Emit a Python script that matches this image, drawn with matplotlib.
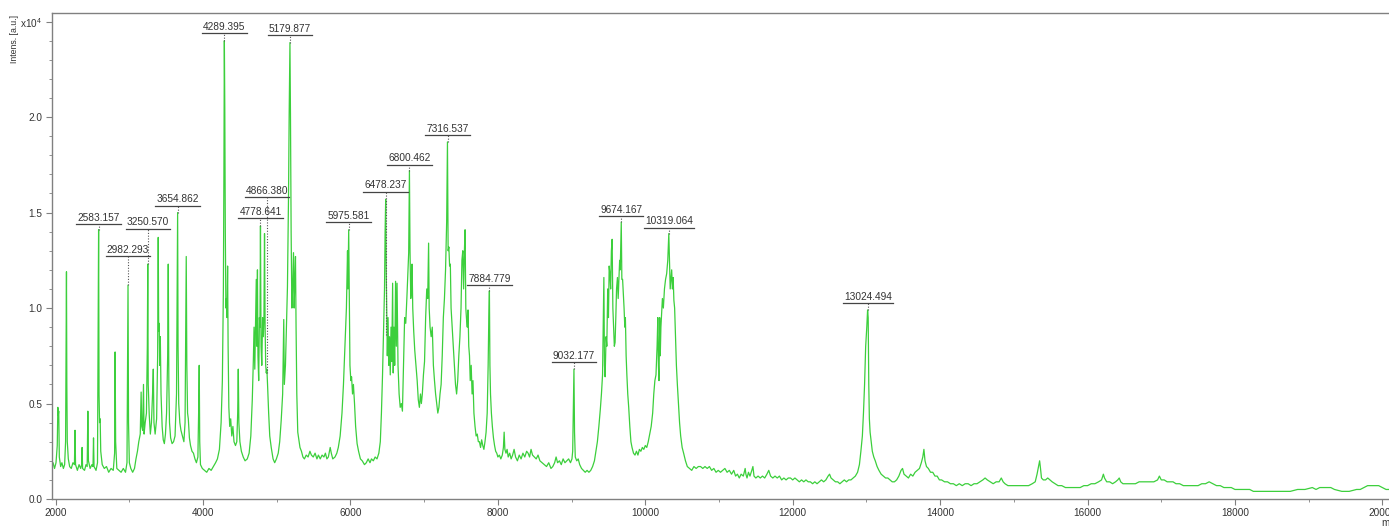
import matplotlib.pyplot as plt
from matplotlib.ticker import MultipleLocator

plt.rcParams['font.family'] = ['Liberation Sans', 'DejaVu Sans']
plt.rcParams['mathtext.default'] = 'regular'

# spectrum trace: (m/z, intensity in 1e4 a.u.)
trace_low = [
    (1950, 0.17), (1965, 0.19), (1985, 0.16), (2005, 0.19), (2022, 0.28), (2030, 0.48),
    (2036, 0.44), (2042, 0.46), (2050, 0.22), (2068, 0.17), (2085, 0.19), (2105, 0.16),
    (2122, 0.18), (2135, 0.30), (2141, 0.76), (2147, 1.19), (2152, 0.60), (2158, 0.30),
    (2172, 0.21), (2190, 0.17), (2212, 0.16), (2235, 0.19), (2255, 0.18), (2263, 0.36),
    (2270, 0.18), (2295, 0.15), (2318, 0.18), (2340, 0.16), (2353, 0.18), (2359, 0.27),
    (2366, 0.16), (2392, 0.15), (2412, 0.18), (2428, 0.17), (2437, 0.46), (2445, 0.20),
    (2468, 0.16), (2492, 0.18), (2507, 0.17), (2514, 0.32), (2521, 0.17), (2548, 0.15),
    (2568, 0.19), (2577, 0.90), (2583, 1.41), (2589, 0.55), (2596, 0.40), (2604, 0.42),
    (2612, 0.25), (2632, 0.18), (2660, 0.16), (2690, 0.17), (2720, 0.14), (2752, 0.16),
    (2782, 0.15), (2800, 0.24), (2807, 0.77), (2814, 0.30), (2830, 0.16), (2858, 0.15),
    (2888, 0.14), (2918, 0.16), (2948, 0.14), (2968, 0.19), (2976, 0.74), (2982, 1.12),
    (2989, 0.40), (3000, 0.19), (3020, 0.16), (3045, 0.14), (3070, 0.16), (3090, 0.21),
    (3110, 0.25), (3128, 0.30), (3148, 0.34), (3160, 0.56), (3168, 0.38), (3180, 0.36),
    (3192, 0.60), (3200, 0.34), (3215, 0.40), (3232, 0.45), (3244, 0.80), (3250, 1.23),
    (3256, 0.60), (3270, 0.44), (3285, 0.34), (3300, 0.40), (3315, 0.55), (3325, 0.68),
    (3334, 0.40), (3350, 0.34), (3370, 0.42), (3384, 0.75), (3392, 1.37), (3398, 0.88),
    (3405, 0.92), (3412, 0.70), (3420, 0.85), (3430, 0.55), (3445, 0.38), (3460, 0.31),
    (3475, 0.29), (3490, 0.34), (3505, 0.45), (3520, 0.75), (3528, 1.23), (3536, 0.60),
    (3545, 0.40), (3560, 0.32), (3580, 0.29), (3600, 0.30), (3620, 0.33), (3640, 0.55),
    (3649, 1.15), (3655, 1.50), (3661, 0.80), (3670, 0.50), (3685, 0.40), (3700, 0.36),
    (3720, 0.33), (3740, 0.30), (3756, 0.40), (3765, 0.90), (3772, 1.27), (3780, 0.70),
    (3790, 0.45), (3800, 0.42), (3815, 0.32), (3830, 0.28), (3850, 0.25), (3870, 0.24),
    (3890, 0.21), (3910, 0.19), (3930, 0.22), (3940, 0.45), (3948, 0.70), (3955, 0.30),
    (3965, 0.18), (3990, 0.16), (4020, 0.15), (4050, 0.14), (4080, 0.16), (4110, 0.15),
    (4140, 0.17), (4170, 0.19), (4195, 0.21), (4222, 0.26), (4245, 0.40), (4262, 0.62),
    (4276, 1.10), (4283, 1.70), (4289, 2.40), (4295, 2.05), (4302, 1.40), (4310, 1.00),
    (4318, 1.05), (4325, 0.95), (4333, 1.22), (4340, 0.80), (4350, 0.48), (4362, 0.38),
    (4375, 0.42), (4390, 0.33), (4405, 0.38), (4420, 0.30), (4440, 0.28), (4458, 0.30),
    (4470, 0.45), (4478, 0.68), (4486, 0.40), (4500, 0.30), (4520, 0.25), (4545, 0.22),
    (4570, 0.20), (4600, 0.21), (4625, 0.24), (4648, 0.33), (4668, 0.52), (4682, 0.72),
    (4692, 0.90), (4702, 0.68), (4712, 0.92), (4722, 1.15), (4730, 0.80), (4738, 1.20),
    (4745, 0.75), (4755, 0.62), (4765, 0.95), (4772, 0.90), (4779, 1.43), (4787, 0.80),
    (4797, 0.70), (4808, 0.95), (4818, 0.85), (4826, 0.94), (4834, 1.39), (4842, 0.90),
    (4850, 0.70), (4858, 0.66), (4866, 0.68), (4875, 0.60), (4890, 0.45), (4905, 0.33),
    (4925, 0.27), (4950, 0.21), (4972, 0.19), (4995, 0.21), (5020, 0.24), (5040, 0.30),
    (5060, 0.41), (5080, 0.55), (5095, 0.94), (5103, 0.60), (5118, 0.70), (5135, 0.95),
    (5145, 1.11), (5160, 1.60), (5168, 2.00), (5179, 2.39), (5186, 2.02), (5195, 1.40),
    (5205, 1.00), (5215, 1.10), (5227, 1.29), (5236, 1.00), (5245, 1.15), (5254, 1.27),
    (5262, 0.90), (5272, 0.55), (5285, 0.35), (5300, 0.31), (5315, 0.27), (5335, 0.25),
    (5355, 0.22), (5375, 0.21), (5400, 0.23), (5425, 0.22), (5450, 0.25), (5470, 0.23),
    (5495, 0.22), (5520, 0.24), (5545, 0.21), (5565, 0.23), (5590, 0.21), (5615, 0.23),
    (5640, 0.22), (5660, 0.24), (5680, 0.21), (5700, 0.22), (5725, 0.27), (5740, 0.24),
    (5760, 0.21), (5790, 0.22), (5815, 0.24), (5835, 0.27), (5860, 0.33), (5885, 0.45),
    (5905, 0.60), (5925, 0.80), (5945, 1.00), (5960, 1.30), (5966, 1.10), (5976, 1.41),
    (5985, 1.00), (5993, 0.70),
]

trace_mid = [
    (6005, 0.62), (6015, 0.64), (6028, 0.55), (6040, 0.60), (6055, 0.50), (6070, 0.38),
    (6090, 0.29), (6110, 0.25), (6135, 0.21), (6160, 0.20), (6190, 0.18), (6215, 0.19),
    (6240, 0.21), (6265, 0.19), (6285, 0.21), (6310, 0.20), (6335, 0.22), (6360, 0.21),
    (6385, 0.24), (6405, 0.30), (6420, 0.45), (6435, 0.65), (6450, 0.90), (6462, 1.10),
    (6470, 1.40), (6478, 1.57), (6485, 1.20), (6492, 1.00), (6500, 0.75), (6510, 0.95),
    (6520, 0.70), (6530, 0.85), (6540, 0.65), (6550, 0.90), (6560, 0.72), (6572, 1.13),
    (6580, 0.66), (6590, 0.90), (6600, 0.70), (6612, 1.14), (6622, 0.80), (6632, 1.13),
    (6645, 0.70), (6660, 0.55), (6675, 0.48), (6690, 0.50), (6705, 0.46), (6720, 0.70),
    (6735, 0.95), (6750, 0.92), (6765, 1.05), (6780, 1.20), (6790, 1.29), (6800, 1.72),
    (6808, 1.30), (6818, 1.05), (6828, 1.11), (6836, 1.23), (6845, 1.00), (6858, 0.88),
    (6872, 0.78), (6888, 0.70), (6905, 0.62), (6920, 0.52), (6935, 0.48), (6950, 0.55),
    (6962, 0.50), (6975, 0.55), (6990, 0.65), (7005, 0.72), (7020, 0.95), (7035, 1.10),
    (7048, 1.05), (7060, 1.34), (7068, 1.00), (7080, 0.90), (7095, 0.85), (7110, 0.90),
    (7125, 0.70), (7140, 0.62), (7155, 0.55), (7170, 0.50), (7185, 0.45), (7200, 0.48),
    (7215, 0.55), (7230, 0.60), (7245, 0.75), (7260, 0.95), (7275, 1.05), (7290, 1.20),
    (7305, 1.45), (7316, 1.87), (7325, 1.30), (7335, 1.32), (7345, 1.22), (7355, 1.23),
    (7365, 1.00), (7380, 0.90), (7395, 0.80), (7410, 0.70), (7425, 0.60), (7440, 0.55),
    (7455, 0.62), (7470, 0.75), (7485, 0.85), (7500, 1.00), (7512, 1.25), (7524, 1.30),
    (7535, 1.10), (7546, 1.30), (7555, 1.41), (7565, 1.00), (7575, 0.94), (7585, 0.90),
    (7595, 0.99), (7605, 0.80), (7615, 0.75), (7625, 0.62), (7638, 0.70), (7650, 0.55),
    (7662, 0.62), (7675, 0.45), (7690, 0.38), (7705, 0.33), (7720, 0.34), (7735, 0.30),
    (7750, 0.30), (7765, 0.27), (7780, 0.31), (7795, 0.28), (7810, 0.26), (7825, 0.30),
    (7840, 0.35), (7855, 0.45), (7868, 0.70), (7877, 0.95), (7885, 1.09), (7892, 0.70),
    (7900, 0.55), (7912, 0.45), (7925, 0.38), (7940, 0.32), (7955, 0.28), (7970, 0.25),
    (7985, 0.24), (8000, 0.22), (8020, 0.23), (8040, 0.21), (8060, 0.23), (8075, 0.27),
    (8085, 0.35), (8095, 0.26), (8110, 0.24), (8125, 0.26), (8140, 0.22), (8160, 0.24),
    (8180, 0.21), (8200, 0.23), (8220, 0.26), (8240, 0.22), (8265, 0.20), (8290, 0.23),
    (8315, 0.21), (8340, 0.24), (8365, 0.22), (8390, 0.25), (8410, 0.24), (8430, 0.22),
    (8450, 0.26), (8470, 0.23), (8495, 0.22), (8520, 0.21), (8545, 0.23), (8570, 0.20),
    (8600, 0.19), (8630, 0.18), (8660, 0.17), (8690, 0.19), (8720, 0.16), (8745, 0.17),
    (8770, 0.19), (8790, 0.22), (8810, 0.19), (8835, 0.20), (8860, 0.18), (8885, 0.21),
    (8910, 0.19), (8935, 0.20), (8960, 0.21), (8985, 0.19), (9005, 0.21), (9015, 0.25),
    (9025, 0.50), (9032, 0.68), (9040, 0.35), (9050, 0.22), (9070, 0.20), (9090, 0.21),
    (9110, 0.18), (9135, 0.16), (9160, 0.15), (9185, 0.14), (9210, 0.15), (9235, 0.14),
    (9260, 0.15), (9285, 0.17), (9310, 0.20), (9330, 0.25), (9350, 0.30), (9370, 0.38),
    (9390, 0.47), (9405, 0.55), (9420, 0.65), (9430, 0.95), (9438, 1.16), (9446, 0.70),
    (9455, 0.64), (9468, 0.85), (9478, 0.80), (9490, 1.10), (9500, 0.95), (9510, 1.22),
    (9520, 1.18), (9530, 1.10), (9540, 1.30), (9550, 1.36), (9560, 1.00), (9570, 0.90),
    (9580, 0.80), (9590, 0.82), (9600, 0.95), (9610, 1.10), (9622, 1.16), (9632, 1.05),
    (9642, 1.15), (9652, 1.25), (9660, 1.20), (9674, 1.45), (9682, 1.15), (9692, 1.15),
    (9702, 1.08), (9712, 1.00), (9722, 0.90), (9730, 0.95), (9740, 0.75), (9750, 0.65),
    (9762, 0.55), (9775, 0.48), (9790, 0.38), (9805, 0.30), (9820, 0.27), (9840, 0.24),
    (9860, 0.23), (9880, 0.25), (9900, 0.23), (9920, 0.26), (9940, 0.25), (9960, 0.27),
    (9980, 0.26), (10000, 0.28), (10020, 0.27), (10040, 0.30), (10060, 0.34), (10080, 0.38),
    (10100, 0.45), (10115, 0.55), (10130, 0.62), (10145, 0.65), (10160, 0.80), (10170, 0.95),
    (10178, 0.70), (10186, 0.62), (10195, 0.95), (10203, 0.75), (10212, 0.90), (10222, 0.98),
    (10232, 1.05), (10245, 1.00), (10260, 1.10), (10275, 1.15), (10290, 1.18), (10305, 1.25),
    (10319, 1.39), (10328, 1.25), (10338, 1.10), (10348, 1.15), (10358, 1.20), (10368, 1.10),
    (10378, 1.16), (10388, 1.04), (10398, 1.00), (10410, 0.85), (10422, 0.70), (10435, 0.60),
    (10450, 0.50), (10465, 0.40), (10480, 0.33), (10500, 0.27), (10520, 0.24), (10545, 0.20),
    (10570, 0.17), (10600, 0.16), (10630, 0.15), (10660, 0.17), (10690, 0.16), (10720, 0.17),
    (10750, 0.17), (10780, 0.16), (10810, 0.17), (10840, 0.16), (10870, 0.17), (10900, 0.15),
    (10930, 0.16), (10960, 0.14), (10990, 0.15),
]

trace_high = [
    (11020, 0.14), (11050, 0.15), (11080, 0.16), (11110, 0.14), (11140, 0.15), (11170, 0.13),
    (11200, 0.15), (11225, 0.12), (11250, 0.13), (11275, 0.11), (11300, 0.13), (11330, 0.12),
    (11355, 0.16), (11365, 0.13), (11380, 0.11), (11400, 0.14), (11420, 0.12), (11445, 0.15),
    (11460, 0.17), (11475, 0.12), (11500, 0.11), (11530, 0.12), (11560, 0.11), (11590, 0.12),
    (11620, 0.11), (11650, 0.13), (11675, 0.15), (11700, 0.12), (11730, 0.11), (11760, 0.12),
    (11790, 0.11), (11820, 0.12), (11850, 0.10), (11880, 0.11), (11910, 0.10), (11940, 0.11),
    (11970, 0.11), (12000, 0.10), (12030, 0.11), (12060, 0.10), (12090, 0.09), (12120, 0.10),
    (12150, 0.09), (12180, 0.10), (12210, 0.09), (12240, 0.09), (12270, 0.08), (12300, 0.09),
    (12330, 0.08), (12360, 0.09), (12390, 0.10), (12420, 0.09), (12450, 0.10), (12480, 0.12),
    (12500, 0.13), (12520, 0.11), (12550, 0.10), (12580, 0.09), (12610, 0.09), (12640, 0.08),
    (12670, 0.09), (12700, 0.10), (12730, 0.09), (12760, 0.10), (12790, 0.10), (12820, 0.11),
    (12850, 0.12), (12880, 0.14), (12905, 0.18), (12925, 0.25), (12945, 0.33), (12960, 0.45),
    (12975, 0.60), (12990, 0.80), (13005, 0.90), (13016, 0.99), (13024, 0.95), (13032, 0.60),
    (13040, 0.42), (13050, 0.35), (13065, 0.30), (13080, 0.25), (13100, 0.22), (13120, 0.20),
    (13145, 0.17), (13170, 0.15), (13200, 0.13), (13230, 0.12), (13260, 0.11), (13290, 0.11),
    (13320, 0.10), (13350, 0.09), (13380, 0.09), (13410, 0.10), (13440, 0.12), (13470, 0.15),
    (13490, 0.16), (13510, 0.13), (13540, 0.12), (13570, 0.11), (13600, 0.13), (13630, 0.12),
    (13660, 0.14), (13690, 0.15), (13720, 0.16), (13745, 0.19), (13765, 0.22), (13780, 0.26),
    (13795, 0.20), (13815, 0.17), (13840, 0.16), (13870, 0.14), (13900, 0.14), (13930, 0.12),
    (13960, 0.12), (13990, 0.10), (14020, 0.10), (14060, 0.09), (14100, 0.09), (14140, 0.08),
    (14180, 0.08), (14220, 0.07), (14260, 0.08), (14300, 0.07), (14340, 0.08), (14380, 0.08),
    (14420, 0.07), (14460, 0.08), (14500, 0.08), (14540, 0.09), (14580, 0.10), (14610, 0.11),
    (14640, 0.10), (14680, 0.09), (14720, 0.08), (14760, 0.09), (14800, 0.09), (14830, 0.11),
    (14855, 0.09), (14880, 0.08), (14920, 0.07), (14960, 0.07), (15000, 0.07), (15050, 0.07),
    (15100, 0.07), (15150, 0.07), (15200, 0.07), (15250, 0.08), (15290, 0.09), (15315, 0.13),
    (15335, 0.17), (15350, 0.20), (15362, 0.16), (15375, 0.11), (15400, 0.10), (15430, 0.10),
    (15460, 0.11), (15490, 0.10), (15520, 0.09), (15560, 0.08), (15600, 0.07), (15650, 0.07),
    (15700, 0.06), (15750, 0.06), (15800, 0.06), (15850, 0.06), (15900, 0.06), (15950, 0.07),
    (16000, 0.07), (16050, 0.08), (16100, 0.08), (16150, 0.09), (16190, 0.10), (16215, 0.13),
    (16230, 0.11), (16260, 0.09), (16300, 0.09), (16340, 0.08), (16380, 0.09), (16410, 0.10),
    (16430, 0.11), (16450, 0.09), (16480, 0.08), (16520, 0.08), (16560, 0.08), (16600, 0.08),
    (16650, 0.08), (16700, 0.09), (16750, 0.09), (16800, 0.09), (16850, 0.09), (16900, 0.09),
    (16950, 0.10), (16975, 0.12), (17000, 0.10), (17040, 0.10), (17080, 0.09), (17120, 0.09),
    (17160, 0.09), (17200, 0.08), (17250, 0.08), (17300, 0.07), (17350, 0.07), (17400, 0.07),
    (17450, 0.07), (17500, 0.07), (17550, 0.08), (17600, 0.08), (17650, 0.09), (17700, 0.08),
    (17750, 0.07), (17800, 0.07), (17850, 0.06), (17900, 0.06), (17950, 0.06), (18000, 0.05),
    (18100, 0.05), (18200, 0.05), (18250, 0.04), (18350, 0.04), (18450, 0.04), (18550, 0.04),
    (18650, 0.04), (18750, 0.04), (18850, 0.05), (18950, 0.05), (19050, 0.06), (19100, 0.05),
    (19150, 0.06), (19250, 0.06), (19300, 0.06), (19350, 0.05), (19450, 0.04), (19550, 0.04),
    (19650, 0.05), (19700, 0.05), (19750, 0.06), (19800, 0.07), (19900, 0.07), (19950, 0.07),
    (20000, 0.06), (20050, 0.05), (20100, 0.05),
]

# labelled peaks
peak_mz = [2583.157, 2982.293, 3250.570, 3654.862, 4289.395, 4778.641, 4866.380,
           5179.877, 5975.581, 6478.237, 6800.462, 7316.537, 7884.779, 9032.177,
           9674.167, 10319.064, 13024.494]
peak_label_y = [1.44, 1.27, 1.415, 1.535, 2.44, 1.47, 1.58,
                2.43, 1.45, 1.61, 1.75, 1.905, 1.12, 0.715,
                1.48, 1.42, 1.025]
peak_tip_y = [1.41, 1.12, 1.23, 1.50, 2.40, 1.43, 0.66,
              2.39, 1.41, 0.86, 1.72, 1.87, 1.09, 0.68,
              1.45, 1.39, 0.99]

mz, inten = zip(*(trace_low + trace_mid + trace_high))

fig = plt.figure(figsize=(13.89, 5.29), dpi=100)
ax = fig.add_axes([0.0374, 0.0567, 0.9626, 0.9187])

ax.plot(mz, inten, color='#3ccf3c', lw=0.9)

ax.set_xlim(1950, 20090)
ax.set_ylim(0, 2.545)

ax.xaxis.set_major_locator(MultipleLocator(2000))
ax.xaxis.set_minor_locator(MultipleLocator(1000))
ax.set_yticks([0, 0.5, 1.0, 1.5, 2.0, 2.5])
ax.set_yticklabels(['0.0', '0.5', '1.0', '1.5', '2.0', 'x10$^{4}$'])
ax.yaxis.set_minor_locator(MultipleLocator(0.1))
ax.tick_params(which='both', direction='out', color='#808080', labelsize=7.2,
               labelcolor='#333333')
ax.tick_params(which='major', length=4)
ax.tick_params(which='minor', length=2.5)
ax.tick_params(axis='x', which='major', pad=2.5)
ax.tick_params(axis='y', which='major', pad=3)

for side in ['left', 'bottom', 'top']:
    ax.spines[side].set_color('#808080')
    ax.spines[side].set_linewidth(1.0)
ax.spines['right'].set_visible(False)

texts = []
for m, ly, ty in zip(peak_mz, peak_label_y, peak_tip_y):
    t = ax.annotate(f'{m:.3f}', xy=(m, ly), xytext=(0, 1.0), textcoords='offset points',
                    ha='center', va='bottom', fontsize=7.3, color='#333333')
    texts.append(t)
    ax.plot([m, m], [ty, ly], color='#555555', lw=0.8, ls=(0, (1, 1.5)))

fig.canvas.draw()
inv = ax.transData.inverted()
for t, ly in zip(texts, peak_label_y):
    bb = t.get_window_extent().transformed(inv)
    ax.plot([bb.x0 - 15, bb.x1 + 15], [ly, ly], color='#444444', lw=0.9)

fig.text(15 / 1389, 1 - 39 / 529, 'Intens. [a.u.]', rotation=90, ha='center',
         va='center', fontsize=6.3, color='#333333')
fig.text(1381 / 1389, 1 - 523 / 529, 'm/z', ha='left', va='center', fontsize=7.2,
         color='#333333')

fig.savefig('out.png', dpi=100)
